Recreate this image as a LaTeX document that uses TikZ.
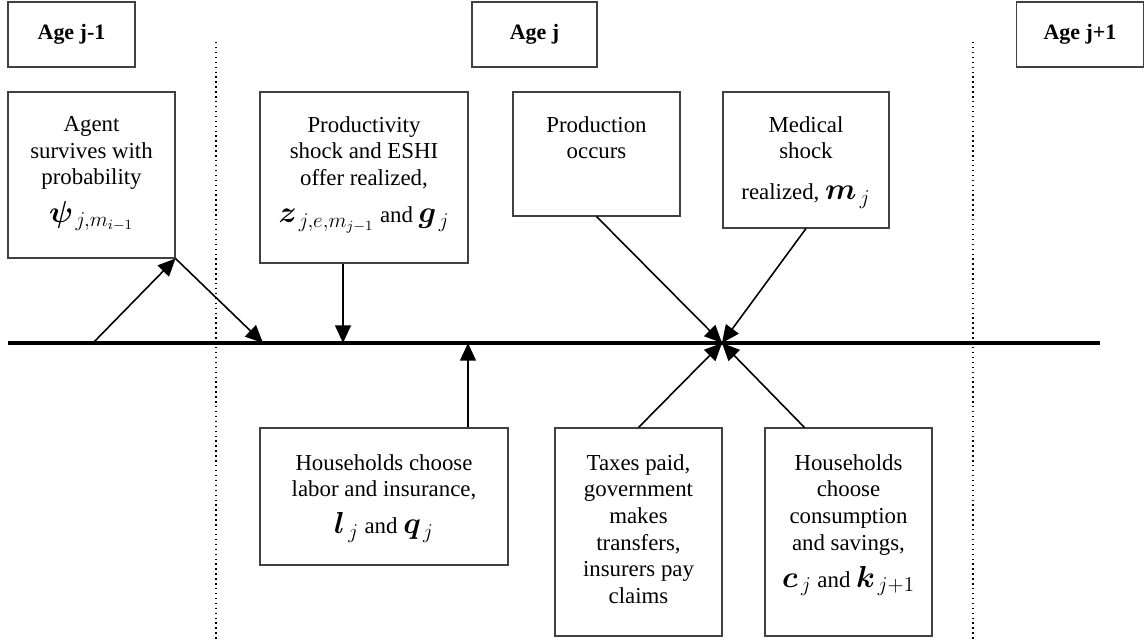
\documentclass[tikz,border=0pt]{standalone}
\usepackage{fontspec}
\setmainfont{Liberation Serif}
\usepackage{bm}
\usetikzlibrary{arrows.meta,positioning}
\tikzset{
  agebox/.style={draw=black!75, line width=0.6pt, minimum width=2.54cm, minimum height=1.3cm,
    font=\fontsize{12.5}{15}\selectfont\bfseries},
  evbox/.style={draw=black!75, line width=0.6pt, inner sep=0pt},
  evtext/.style={align=center, inner sep=0pt, anchor=north, font=\fontsize{13}{15.2}\selectfont},
  arr/.style={line width=0.9pt, -{Triangle[length=10pt,width=9pt]}},
  timeline/.style={line width=2.3pt},
  divider/.style={dotted, line width=0.8pt},
}
\newcommand{\mlbl}[1]{{\fontsize{16.5}{16}\selectfont$#1$}}
\begin{document}
\begin{tikzpicture}[x=0.02cm,y=-0.02cm]
    \useasboundingbox (0,0) rectangle (1144,641);
    % age headers
    \node[agebox] (agea) at (71.5,34.5) {Age j-1};
    \node[agebox, minimum width=2.5cm] (ageb) at (534.5,34.5) {Age j};
    \node[agebox] (agec) at (1080,34.5) {Age j+1};
    % period dividers
    \draw[divider] (216,42) -- (216,641);
    \draw[divider] (973,42) -- (973,641);
    % time line
    \coordinate (tla) at (8,343);
    \coordinate (tlb) at (1100,343);
    \draw[timeline] (tla) -- (tlb);
    % events above the line
    \node[evbox, minimum width=3.34cm, minimum height=3.32cm] (surv) at (91.5,175) {};
    \node[evtext, below=14pt of surv.north] (survtxt) {Agent\\ survives with\\ probability\\[6pt]
      \mlbl{\bm{\psi}_{\,j,m_{i-1}}}};
    \node[evbox, minimum width=4.16cm, minimum height=3.42cm] (prod) at (364,177.5) {};
    \node[evtext, below=14pt of prod.north] (prodtxt) {Productivity\\ shock and ESHI\\ offer realized,\\[6pt]
      \mlbl{\bm{z}_{\,j,e,m_{j-1}}} and \mlbl{\bm{g}_{\,j}}};
    \node[evbox, minimum width=3.34cm, minimum height=2.48cm] (outp) at (596.5,154) {};
    \node[evtext, below=14pt of outp.north] (outptxt) {Production\\ occurs};
    \node[evbox, minimum width=3.32cm, minimum height=2.72cm] (med) at (806,160) {};
    \node[evtext, below=14pt of med.north] (medtxt) {Medical\\ shock\\[8pt] realized, \mlbl{\bm{m}_{\,j}}};
    % events below the line
    \node[evbox, minimum width=4.96cm, minimum height=2.74cm] (labor) at (384,496.5) {};
    \node[evtext, below=15pt of labor.north] (labortxt) {Households choose\\ labor and insurance,\\[6pt]
      \mlbl{\bm{l}_{\,j}} and \mlbl{\bm{q}_{\,j}}};
    \node[evbox, minimum width=3.34cm, minimum height=4.16cm] (tax) at (638.5,532) {};
    \node[evtext, below=15pt of tax.north] (taxtxt) {Taxes paid,\\ government\\ makes\\ transfers,\\ insurers pay\\ claims};
    \node[evbox, minimum width=3.34cm, minimum height=4.16cm] (cons) at (848.5,532) {};
    \node[evtext, below=15pt of cons.north] (constxt) {Households\\ choose\\ consumption\\ and savings,\\[6pt]
      \mlbl{\bm{c}_{\,j}} and \mlbl{\bm{k}_{\,j+1}}};
    % arrows
    \coordinate (sa) at (93,343);
    \coordinate (sb) at (263,343);
    \coordinate (pa) at (343,343);
    \coordinate (pb) at (468,343);
    \coordinate (hub) at (722,343);
    \draw[arr] (sa) -- (surv.south east);
    \draw[arr] (surv.south east) -- (sb);
    \draw[arr] (prod.south -| pa) -- (pa);
    \draw[arr] (labor.north -| pb) -- (pb);
    \draw[arr] (outp.south) -- (hub);
    \draw[arr] (med.south) -- (hub);
    \draw[arr] (tax.north) -- (hub);
    \draw[arr] ([xshift=0.8cm]cons.north west) -- (hub);
\end{tikzpicture}
\end{document}
